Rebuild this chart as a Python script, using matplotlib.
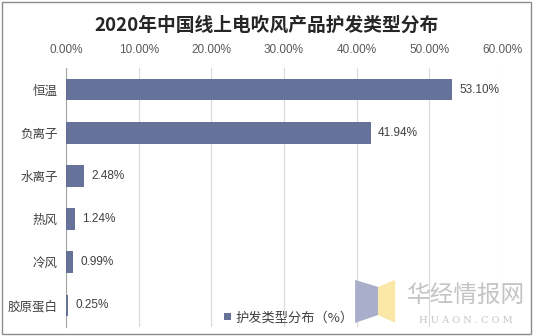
import matplotlib.pyplot as plt
from matplotlib.patches import Rectangle, Polygon

plt.rcParams['font.family'] = ['Noto Sans CJK SC', 'DejaVu Sans']

categories = ['恒温', '负离子', '水离子', '热风', '冷风', '胶原蛋白']
shares = [53.10, 41.94, 2.48, 1.24, 0.99, 0.25]
xticks = [0, 10, 20, 30, 40, 50, 60]
series_name = '护发类型分布（%）'
title = '2020年中国线上电吹风产品护发类型分布'

bar_color = '#67729b'
num_font = 'Liberation Sans'

fig = plt.figure(figsize=(5.34, 3.36), dpi=100)
ax = fig.add_axes([0.1236, 0.0268, 0.8164, 0.7708])

y = range(len(categories))
ax.barh(y, shares, height=0.5, color=bar_color, label=series_name, zorder=3)
for yi, v in zip(y, shares):
    ax.text(v + 1.0, yi, f'{v:.2f}%', va='center', ha='left', family=num_font,
            fontsize=8.5, color='#404040', zorder=4)

ax.set_xlim(0, 60)
ax.set_ylim(len(categories) - 0.5, -0.5)
ax.set_yticks(list(y))
ax.set_yticklabels(categories, fontsize=9, color='#404040')
ax.set_xticks(xticks)
ax.set_xticklabels([f'{t:.2f}%' for t in xticks], fontsize=8.5, color='#595959',
                   family=num_font)
ax.xaxis.tick_top()
ax.tick_params(axis='both', length=0, pad=6)
ax.tick_params(axis='x', pad=9)
ax.grid(axis='x', color='#d9d9d9', linewidth=0.8, zorder=0)
for s in ['top', 'right', 'bottom']:
    ax.spines[s].set_visible(False)
ax.spines['left'].set_color('#a6a6a6')
ax.spines['left'].set_linewidth(0.8)

fig.text(0.5, 0.925, title, ha='center', va='center', fontsize=13.5,
         fontweight='bold', color='#262626')

# watermark logo and site name
fig.patches.append(Polygon([[0.665, 0.167], [0.708, 0.146], [0.708, 0.0625], [0.665, 0.039]],
                           closed=True, transform=fig.transFigure,
                           facecolor='#a9aecb', edgecolor='none', zorder=5))
fig.patches.append(Polygon([[0.708, 0.146], [0.740, 0.167], [0.740, 0.039], [0.708, 0.0625]],
                           closed=True, transform=fig.transFigure,
                           facecolor='#fbe7a6', edgecolor='none', zorder=5))
fig.text(0.873, 0.122, '华经情报网', ha='center', va='center', fontsize=17,
         color='#c4c4c4', zorder=6)
fig.text(0.873, 0.045, 'H U A O N . C O M', ha='center', va='center', fontsize=7,
         color='#c4c4c4', family='DejaVu Serif', zorder=6)

ax.legend(loc='lower left', bbox_to_anchor=(0.335, -0.035), frameon=False,
          fontsize=9.5, handlelength=0.55, handleheight=0.55, handletextpad=0.3,
          labelcolor='#404040')

fig.patches.append(Rectangle((0.004, 0.006), 0.99, 0.988, transform=fig.transFigure,
                             fill=False, edgecolor='#8c8c8c', linewidth=1))

fig.savefig('out.png', dpi=100)
